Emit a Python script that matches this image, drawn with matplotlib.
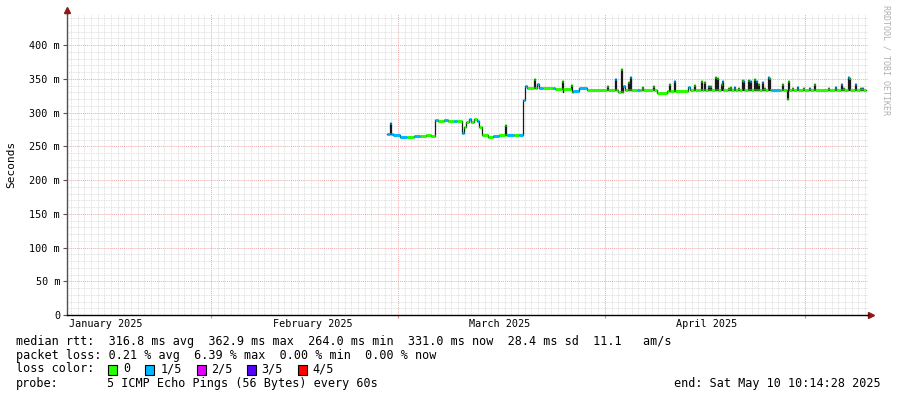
import matplotlib
matplotlib.use('Agg')
import matplotlib.pyplot as plt
import matplotlib.dates as mdates
import matplotlib.transforms as mtransforms
from matplotlib.patches import Rectangle
import numpy as np
import pandas as pd

plt.rcParams['font.family'] = ['DejaVu Sans Mono']

START = pd.Timestamp('2025-01-01')
END = pd.Timestamp('2025-05-10 10:14:28')

# median rtt baseline: start of step (days since Jan 1), value in ms, lost pings out of 5
base_day = [57.3, 58.2, 59.3, 60.3, 61.4, 62.3, 63.2, 63.9, 64.5, 65.0, 65.9, 66.5,
            67.4, 67.8, 68.6, 68.9, 69.2, 69.6, 69.9, 70.4, 70.8, 71.1, 71.6, 72.5,
            73.3, 74.1, 75.3, 76.4, 77.1, 77.7, 78.0, 78.3, 79.8, 80.1, 80.8, 82.2,
            82.5, 83.8, 85.3, 86.1, 87.4, 92.0, 92.7, 93.0, 94.0, 94.8, 95.3, 97.8,
            99.3, 102.4, 102.7, 104.0, 114.9, 116.2, 129.2]
base_rtt = [268, 266, 264, 264, 265, 265, 266, 265, 289, 288, 289, 288,
            288, 287, 270, 279, 286, 291, 286, 291, 287, 278, 266, 264,
            265, 266, 267, 267, 266, 318, 340, 336, 343, 336, 336, 336,
            335, 331, 332, 337, 333, 331, 339, 334, 333, 333, 333, 329,
            332, 338, 333, 333, 333, 333, 333]
base_loss = [1, 1, 1, 0, 1, 0, 0, 0, 1, 0, 1, 0,
             1, 0, 1, 0, 0, 1, 0, 0, 1, 0, 0, 0,
             1, 0, 1, 0, 1, 1, 1, 0, 1, 1, 0, 1,
             0, 0, 1, 1, 0, 0, 1, 0, 0, 1, 0, 0,
             0, 1, 0, 0, 1, 0, 0]

# short spikes of the median
spike_day = [57.8, 75.0, 79.35, 83.65, 84.9, 90.3, 91.56, 92.43, 93.43, 93.73, 95.53,
             97.28, 99.68, 100.32, 103.4, 104.41, 104.92, 105.42, 105.76, 106.51,
             106.77, 107.41, 107.62, 108.42, 108.76, 109.42, 109.91, 110.51, 110.76,
             111.51, 111.81, 112.41, 112.65, 113.01, 113.51, 113.91, 114.41, 114.6,
             116.5, 117.25, 117.5, 118.1, 118.75, 119.65, 120.6, 121.4, 123.4, 124.5,
             125.4, 125.75, 126.4, 126.6, 127.5, 128.25, 128.5]
spike_rtt = [285, 282, 350, 346, 341, 340, 349, 364, 345, 353, 338,
             339, 342, 347, 341, 347, 345, 340, 339, 352,
             351, 343, 346, 337, 338, 338, 337, 348, 346,
             348, 346, 350, 347, 343, 345, 337, 352, 351,
             342, 320, 347, 337, 338, 337, 337, 343, 337, 338,
             342, 337, 352, 351, 342, 336, 336]
spike_loss = [1, 0, 0, 0, 0, 0, 1, 0, 0, 1, 0,
              0, 0, 1, 0, 0, 0, 1, 0, 0,
              0, 0, 1, 0, 0, 1, 0, 0, 1,
              0, 1, 0, 1, 0, 1, 0, 1, 0,
              0, 0, 0, 0, 1, 0, 1, 0, 0, 1,
              1, 0, 1, 0, 1, 0, 1]

month_names = ['January 2025', 'February 2025', 'March 2025', 'April 2025']
loss_labels = ['0', '1/5', '2/5', '3/5', '4/5']
loss_colors = ['#26ff00', '#00b8ff', '#e100ff', '#5500ff', '#ff0000']

# merge spikes into the baseline steps
bd = np.array(base_day)
days = list(base_day)
rtts = list(base_rtt)
losses = list(base_loss)
for d, v, l in zip(spike_day, spike_rtt, spike_loss):
    i = np.searchsorted(bd, d, side='right') - 1
    days += [d, d + 0.15]
    rtts += [v, base_rtt[i]]
    losses += [l, base_loss[i]]
order = np.argsort(days, kind='stable')
days = np.array(days)[order]
rtts = np.array(rtts)[order]
losses = np.array(losses)[order]

t0 = mdates.date2num(START)
t = t0 + days
t_end = mdates.date2num(END)

W, H = 897, 397
fig = plt.figure(figsize=(W / 100, H / 100), dpi=100)
ax = fig.add_axes([67 / W, 1 - 315 / H, (868 - 67) / W, (315 - 14) / H])

def fx(x, y):
    return x / W, 1 - y / H

ax.step(t, rtts, where='post', color='#1a1a1a', lw=0.9, zorder=3)
ax.hlines(rtts[:-1], t[:-1], t[1:], colors=[loss_colors[l] for l in losses[:-1]],
          lw=2.2, zorder=4)

ax.set_xlim(t_end - 120, t_end)
ax.set_ylim(0, 446)

month_starts = [mdates.date2num(pd.Timestamp(f'2025-{m:02d}-01')) for m in range(1, 6)]
ax.set_xticks(month_starts[1:])
ax.set_xticklabels([])
ax.xaxis.set_minor_locator(mdates.DayLocator())
ax.set_yticks(np.arange(0, 401, 50))
ax.set_yticklabels(['0'] + [f'{v} m' for v in range(50, 401, 50)])
ax.set_yticks(np.arange(0, 441, 10), minor=True)
ax.tick_params(axis='y', which='major', labelsize=7.3, length=3, pad=2, color='#555555')
ax.tick_params(axis='both', which='minor', length=0)
ax.tick_params(axis='x', which='major', length=2, color='#d09090')

ax.grid(which='minor', color='#d6d6d6', linestyle=(0, (1, 1)), lw=0.6, zorder=0)
ax.grid(which='major', color='#eeaaaa', linestyle=(0, (1, 1)), lw=0.7, zorder=1)
ax.set_axisbelow(True)

for s in ['top', 'right']:
    ax.spines[s].set_visible(False)
ax.spines['left'].set_color('#505050')
ax.spines['bottom'].set_color('#000000')
ax.spines['left'].set_linewidth(1.0)
ax.spines['bottom'].set_linewidth(1.0)

# axis arrows
ax.plot([0, 0], [1, 1.013], transform=ax.transAxes, color='#505050', lw=1.0, clip_on=False)
ax.plot([0], [1.013], marker='^', color='#8b1a1a', ms=4, transform=ax.transAxes, clip_on=False)
ax.plot([1, 1.004], [0, 0], transform=ax.transAxes, color='#000000', lw=1.0, clip_on=False)
ax.plot([1.004], [0], marker='>', color='#8b1a1a', ms=4, transform=ax.transAxes, clip_on=False)

# month labels centred mid month
trans = mtransforms.blended_transform_factory(ax.transData, ax.transAxes)
for m, name in enumerate(month_names):
    ax.text(month_starts[m] + 15.2, -0.012, name, transform=trans, ha='center', va='top',
            fontsize=7.3, color='#000000')

fig.text(*fx(11, 164), 'Seconds', rotation=90, ha='center', va='center', fontsize=8)
fig.text(*fx(886, 60), 'RRDTOOL / TOBI OETIKER', rotation=270, ha='center', va='center',
         fontsize=6, color='#b0b0b0')

fs = 8.5
fig.text(*fx(16, 341), 'median rtt:  316.8 ms avg  362.9 ms max  264.0 ms min  331.0 ms now  28.4 ms sd  11.1   am/s',
         ha='left', va='center', fontsize=fs)
fig.text(*fx(16, 355), 'packet loss: 0.21 % avg  6.39 % max  0.00 % min  0.00 % now',
         ha='left', va='center', fontsize=fs)
fig.text(*fx(16, 369), 'loss color:', ha='left', va='center', fontsize=fs)
box_x = [107.5, 145, 196.5, 247, 298]
lab_x = [123, 160.5, 211, 261.5, 312.5]
for bx, lx, lab, c in zip(box_x, lab_x, loss_labels, loss_colors):
    fig.patches.append(Rectangle(fx(bx, 374.5), 9 / W, 10 / H, transform=fig.transFigure,
                                 facecolor=c, edgecolor='#000000', lw=0.8, figure=fig))
    fig.text(*fx(lx, 369), lab, ha='left', va='center', fontsize=fs)
fig.text(*fx(16, 383), 'probe:', ha='left', va='center', fontsize=fs)
fig.text(*fx(107, 383), '5 ICMP Echo Pings (56 Bytes) every 60s', ha='left', va='center', fontsize=fs)
fig.text(*fx(881, 383), 'end: Sat May 10 10:14:28 2025', ha='right', va='center', fontsize=fs)

fig.savefig('out.png', dpi=100, facecolor='white')
